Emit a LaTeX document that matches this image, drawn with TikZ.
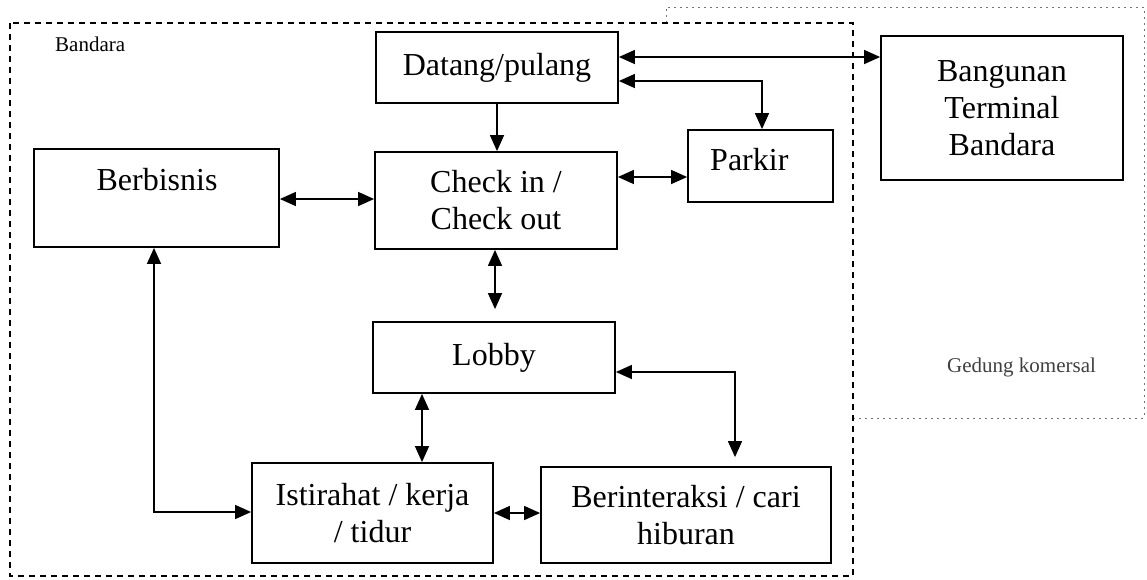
\documentclass[tikz,border=0pt]{standalone}
\usepackage{fontspec}
\setmainfont{Liberation Serif}
\usetikzlibrary{arrows.meta}
\begin{document}
\begin{tikzpicture}[x=1pt,y=-1pt,
  box/.style={draw, line width=1.8pt, rectangle, inner sep=0pt, align=center,
    font=\fontsize{32}{37}\selectfont},
  lbl/.style={inner sep=0pt, font=\fontsize{32}{37}\selectfont},
  small/.style={inner sep=0pt, font=\fontsize{21}{24}\selectfont},
  dbl/.style={line width=1.4pt, {Triangle[length=16pt,width=14pt]}-{Triangle[length=16pt,width=14pt]}},
  sgl/.style={line width=1.4pt, -{Triangle[length=16pt,width=14pt]}},
  zoneA/.style={line width=1.8pt, dash pattern=on 6pt off 5pt},
  zoneB/.style={line width=0.7pt, black!55, dash pattern=on 2pt off 4pt}]
\useasboundingbox (0,0) rectangle (1147,579);

% zones
\draw[zoneB] (666,23) -- (666,7) -- (1144,7) -- (1144,418) -- (852,418);
\draw[zoneA] (10,23) rectangle (853,576);
\node[small, anchor=base west] (lblband) at (55,51) {Bandara};
\node[small, anchor=base west, text=black!75] (lblged) at (947,372) {Gedung komersal};

% boxes
\node[box, minimum width=242pt, minimum height=71pt] (datang) at (497,67.5) {Datang/pulang};
\node[box, minimum width=242pt, minimum height=97pt] (check) at (496,200.5) {Check in /\\Check out};
\node[box, minimum width=245pt, minimum height=98pt] (berb) at (156.5,198) {};
\node[lbl, anchor=base] (berbt) at (157,190) {Berbisnis};
\node[box, minimum width=145pt, minimum height=72pt] (parkir) at (760.5,166) {};
\node[lbl, anchor=base west] (parkirt) at (710,170) {Parkir};
\node[box, minimum width=242pt, minimum height=144pt] (bang) at (1002,108) {Bangunan\\Terminal\\Bandara};
\node[box, minimum width=242pt, minimum height=71pt] (lobby) at (494,357.5) {Lobby};
\node[box, minimum width=241pt, minimum height=100pt] (ist) at (372.5,513) {Istirahat / kerja\\/ tidur};
\node[box, minimum width=290pt, minimum height=96pt] (berint) at (686,515) {Berinteraksi / cari\\hiburan};

% connectors
\coordinate (d1) at ([yshift=10.5pt]datang.east);
\draw[dbl] (d1) -- (d1 -| bang.west);
\coordinate (d2) at ([yshift=-13.5pt]datang.east);
\coordinate (p1) at ([xshift=1.5pt]parkir.north);
\draw[dbl] (d2) -| (p1);
\draw[sgl] (datang.south) -- (datang.south |- check.north);
\coordinate (c1) at ([yshift=23.5pt]check.east);
\draw[dbl] (c1) -- (c1 -| parkir.west);
\coordinate (c2) at ([yshift=1.5pt]check.west);
\draw[dbl] (c2) -- (c2 -| berb.east);
\coordinate (c3) at ([xshift=-1pt]check.south);
\draw[dbl, shorten >=12pt] (c3) -- (c3 |- lobby.north);
\coordinate (l1) at ([xshift=-72pt]lobby.south);
\draw[dbl] (l1) -- (l1 |- ist.north);
\coordinate (l2) at ([yshift=-14.5pt]lobby.east);
\coordinate (b1) at ([xshift=49pt]berint.north);
\draw[dbl, shorten >=9pt] (l2) -| (b1);
\coordinate (b2) at ([xshift=-2.5pt]berb.south);
\coordinate (i1) at ([yshift=1pt]ist.west);
\draw[dbl] (b2) |- (i1);
\coordinate (i2) at (ist.east);
\draw[dbl] (i2) -- (i2 -| berint.west);
\end{tikzpicture}
\end{document}
